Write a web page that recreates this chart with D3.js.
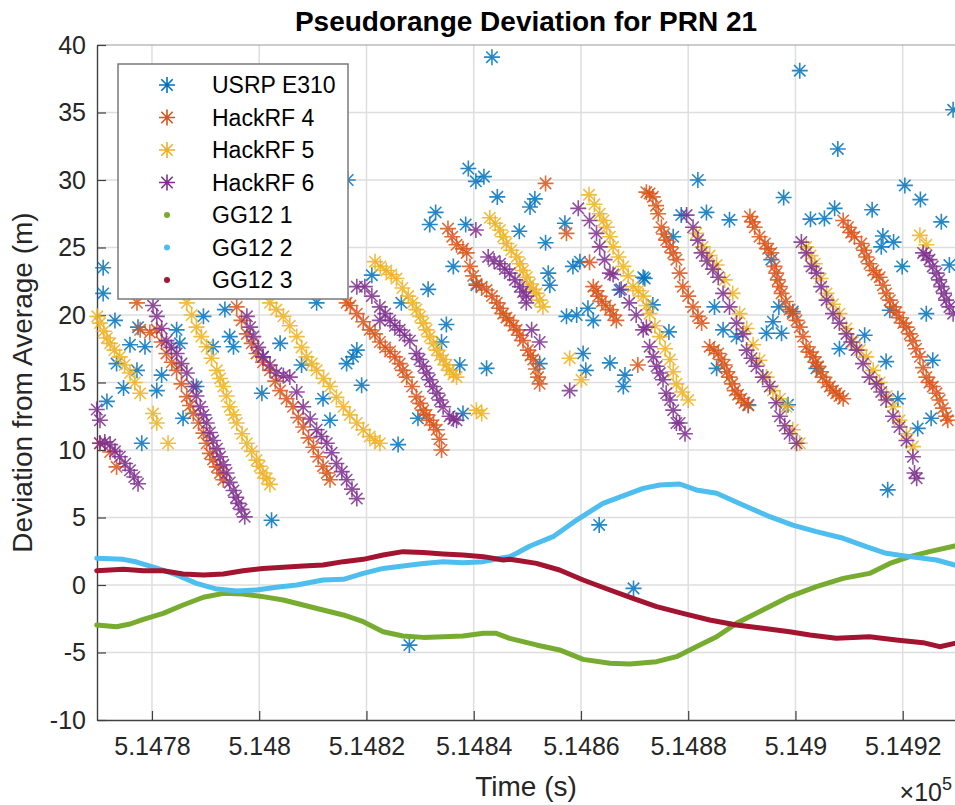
<!DOCTYPE html>
<html>
<head>
<meta charset="utf-8">
<script src="https://cdn.jsdelivr.net/npm/d3@7/dist/d3.min.js"></script>
<style>
  html, body { margin: 0; padding: 0; background: #fff; }
  svg text { font-family: "Liberation Sans", Arial, Helvetica, sans-serif; }
</style>
</head>
<body>
<div id="chart"></div>
<script>
// Values.
// Time in seconds (the axis shows it scaled by 1e5), deviation in metres.
const xTicks = [514780, 514800, 514820, 514840, 514860, 514880, 514900, 514920];
const xTickLabels = ['5.1478', '5.148', '5.1482', '5.1484', '5.1486', '5.1488', '5.149', '5.1492'];
const yTicks = [-10, -5, 0, 5, 10, 15, 20, 25, 30, 35, 40];
const yTickLabels = ['-10', '-5', '0', '5', '10', '15', '20', '25', '30', '35', '40'];
const seriesNames = ['USRP E310', 'HackRF 4', 'HackRF 5', 'HackRF 6', 'GG12 1', 'GG12 2', 'GG12 3'];

const usrpE310 = [
  [514770.9,23.5],[514770.9,21.6],[514773.1,19.6],[514777.4,19.1],[514775.9,17.8],[514778.7,17.65],[514773.4,16.4],
  [514777.2,15.9],[514774.7,14.6],[514771.6,13.6],[514778.1,10.5],[514784.6,18.9],[514785.2,17.9],[514781.8,15.55],
  [514780.9,14.4],[514785.8,12.35],[514788.3,14.7],[514789.6,19.9],[514793.6,20.4],[514794.5,18.4],[514795.2,17.65],
  [514791.4,17.65],[514800.5,14.2],[514800.7,16.9],[514803.9,17.9],[514807.9,16.3],[514811.9,13.8],[514813.2,12.2],
  [514816.3,16.4],[514817.5,16.9],[514818.2,17.4],[514819.1,14.8],[514802.3,4.8],[514810.7,20.9],[514816.5,30.0],
  [514821.0,22.95],[514826.5,20.9],[514831.5,21.9],[514836.2,23.6],[514834.9,19.3],[514834.0,18.0],[514837.4,16.3],
  [514842.4,16.05],[514840.5,22.2],[514825.9,10.4],[514829.6,12.35],[514838.0,12.7],
  [514843.4,39.1],[514839.0,30.85],[514840.4,29.9],[514841.9,30.25],[514844.4,28.75],[514850.5,28.0],[514851.4,28.6],
  [514832.9,27.6],[514831.8,26.7],[514838.5,26.7],[514848.5,26.2],[514853.4,25.35],[514853.9,23.1],[514854.2,22.2],
  [514852.3,16.4],[514857.0,26.8],[514858.5,23.6],[514859.8,23.95],[514867.2,21.85],[514871.6,22.8],[514857.3,19.9],
  [514859.2,20.0],[514861.3,20.5],[514862.3,19.6],[514860.4,17.15],[514860.9,15.9],[514865.4,16.45],[514868.2,15.55],
  [514867.9,14.7],[514873.4,20.75],[514863.4,4.45],[514869.8,-0.25],[514828.0,-4.45],
  [514900.8,38.1],[514929.4,35.2],[514907.9,32.3],[514881.8,30.0],[514897.8,28.7],[514920.4,29.6],[514923.3,28.55],
  [514927.2,26.9],[514883.4,27.6],[514887.7,27.05],[514902.8,27.1],[514905.4,27.15],[514907.3,27.9],[514914.3,27.8],
  [514877.2,25.8],[514878.7,27.4],[514916.3,25.85],[514918.3,25.4],[514916.0,25.05],[514919.9,23.6],[514928.7,23.7],
  [514871.9,22.7],[514876.4,18.75],[514884.9,20.6],[514895.5,24.1],[514896.9,20.6],[514895.8,19.5],[514899.5,20.25],
  [514894.6,18.65],[514924.4,20.1],[514917.6,20.35],[514912.9,18.5],[514886.5,18.9],[514889.0,18.4],[514897.4,18.65],
  [514885.3,16.05],[514891.2,13.35],[514898.6,13.35],[514903.9,16.05],[514908.2,17.5],[514916.9,16.55],[514919.1,13.8],
  [514922.8,11.6],[514925.3,12.35],[514925.6,16.65],[514917.2,7.05]
];

const hackRF4 = [
  [514777.2,20.9],[514777.8,18.9],[514779.6,18.7],[514770.3,10.5],[514772.2,9.85],[514773.4,8.75],
  [514780.9,18.9],[514781.8,18.0],[514782.7,17.15],[514783.7,16.5],[514784.6,15.9],[514785.5,14.9],[514786.5,13.95],
  [514787.1,13.3],[514787.7,12.7],[514788.7,12.0],[514789.6,11.25],[514790.2,10.5],[514790.8,9.75],[514791.4,9.3],
  [514792.1,8.75],[514792.7,8.3],[514793.3,7.8],
  [514795.8,20.6],[514796.7,19.6],[514797.7,18.6],[514798.6,17.9],[514799.5,17.15],[514800.7,16.5],[514802.0,15.9],
  [514803.0,15.1],[514803.9,14.4],[514805.1,13.8],[514806.3,13.2],[514807.3,12.4],[514808.2,11.7],[514809.2,10.9],
  [514810.1,10.2],[514811.0,9.5],[514811.9,8.8],[514812.6,8.3],[514813.2,7.8],
  [514816.3,20.9],[514817.0,20.7],[514818.2,20.1],[514819.4,19.5],[514820.6,18.9],[514821.6,18.6],[514822.5,18.0],
  [514823.5,17.6],[514824.4,17.3],[514825.3,16.9],[514826.2,16.4],[514826.8,15.9],[514827.5,15.4],[514828.5,14.7],
  [514829.3,13.95],[514830.0,13.45],[514830.6,12.95],[514831.2,12.6],[514831.8,12.2],[514832.5,11.85],[514833.1,11.5],
  [514833.6,10.8],[514834.0,10.0],
  [514835.2,26.4],[514836.0,25.8],[514836.8,25.2],[514838.0,24.9],[514838.7,24.6],[514839.3,23.6],[514839.9,22.9],
  [514840.5,22.3],[514841.5,22.1],[514842.4,21.85],[514843.4,21.4],[514844.3,20.9],[514844.9,20.5],[514845.5,20.1],
  [514846.1,19.8],[514846.7,19.6],[514847.4,19.2],[514848.0,18.9],[514848.6,18.5],[514849.2,18.1],[514850.1,17.4],
  [514850.6,17.0],[514851.1,16.7],[514851.6,16.0],[514852.0,15.4],[514852.3,14.9],
  [514853.4,29.75],[514857.3,26.05],[514861.6,23.9],[514870.6,16.3],
  [514862.3,22.1],[514862.9,21.8],[514863.2,21.4],[514863.9,21.0],[514864.6,20.7],[514865.4,20.4],[514866.0,20.0],
  [514866.6,19.6],
  [514872.2,29.1],[514872.8,29.0],[514873.4,28.75],[514874.0,28.1],[514874.4,27.5],[514875.0,26.5],[514875.5,26.0],
  [514875.9,25.55],[514876.6,25.05],[514877.2,24.6],[514877.8,24.1],[514878.4,23.1],[514879.0,22.1],[514880.0,21.4],
  [514880.9,20.6],[514881.8,19.9],[514882.5,19.4],
  [514884.0,17.65],[514884.8,17.4],[514885.6,17.15],[514886.2,16.7],[514886.8,16.3],[514887.2,15.8],[514887.7,15.4],
  [514888.2,14.9],[514888.7,14.4],[514889.3,14.1],[514889.9,13.8],[514890.5,13.5],[514891.2,13.3],
  [514891.5,27.3],[514892.0,26.9],[514892.4,26.5],[514893.3,25.8],[514894.3,25.3],[514894.9,24.9],[514895.5,24.6],
  [514896.1,23.6],[514896.4,23.1],[514896.7,22.6],[514897.1,22.1],[514897.4,21.6],[514898.2,21.0],[514898.9,20.4],
  [514899.5,20.1],[514900.2,19.6],[514900.8,19.1],[514901.4,18.4],[514902.0,17.65],[514902.7,17.25],[514903.3,16.9],
  [514903.8,16.5],[514904.2,16.2],[514904.7,15.8],[514905.1,15.4],[514905.8,15.0],[514906.4,14.7],[514907.0,14.4],
  [514907.6,14.2],[514908.2,14.0],[514908.9,13.8],
  [514908.9,27.0],[514909.8,26.5],[514910.4,26.1],[514911.0,25.8],[514912.3,25.3],[514912.8,24.8],[514913.2,24.3],
  [514913.8,23.8],[514914.5,23.3],[514915.1,23.0],[514915.7,22.8],[514916.3,22.2],[514916.9,21.6],[514917.6,21.1],
  [514918.2,20.6],[514918.8,20.2],[514919.4,19.8],[514920.1,19.4],[514920.7,19.1],[514921.3,18.6],[514921.9,18.1],
  [514922.5,17.5],[514923.2,16.9],[514923.8,16.1],[514924.4,15.4],[514925.0,15.0],[514925.6,14.7],[514926.3,14.2],
  [514926.9,13.7],[514927.5,13.1],[514928.1,12.5],[514928.4,12.2]
];

const hackRF5 = [
  [514769.8,19.9],[514770.3,19.4],[514771.0,18.8],[514771.6,18.3],[514772.2,17.9],[514773.0,17.4],[514774.0,16.9],
  [514774.9,16.3],[514775.9,15.7],[514776.8,15.0],[514777.8,14.2],[514780.2,12.7],[514780.9,12.0],[514783.0,10.5],
  [514786.5,20.9],[514787.4,20.0],[514788.3,19.1],[514789.2,18.4],[514790.2,17.65],[514791.1,16.8],[514792.1,15.9],
  [514792.7,15.3],[514793.3,14.7],[514793.9,14.0],[514794.5,13.2],[514795.2,12.6],[514795.8,12.0],[514796.8,11.2],
  [514797.7,10.5],[514798.6,9.9],[514799.5,9.25],[514800.1,8.8],[514800.7,8.3],[514801.4,7.9],[514802.0,7.45],
  [514802.0,20.9],[514803.2,20.4],[514804.5,19.9],[514805.7,19.2],[514807.0,18.4],[514807.9,17.6],[514808.8,16.9],
  [514809.8,16.4],[514810.7,15.9],[514812.0,15.3],[514813.2,14.7],[514814.4,13.9],[514815.7,13.2],[514816.9,12.6],
  [514818.2,12.0],[514819.4,11.5],[514820.6,11.0],[514821.6,10.7],[514822.5,10.5],
  [514821.6,23.95],[514822.6,23.6],[514823.7,23.3],[514824.6,23.0],[514825.6,22.7],[514826.7,22.0],[514827.8,21.4],
  [514828.6,20.9],[514829.3,20.4],[514830.0,19.9],[514830.6,19.4],[514831.2,18.9],[514831.8,18.4],[514832.5,17.9],
  [514833.1,17.4],[514833.7,17.0],[514834.3,16.7],[514834.9,16.3],[514835.5,15.9],[514836.2,15.6],[514836.8,15.4],
  [514840.5,12.95],[514841.5,12.7],
  [514843.0,27.2],[514844.0,26.8],[514844.9,26.3],[514845.5,25.8],[514846.1,25.3],[514847.0,24.8],[514848.0,24.3],
  [514848.6,23.8],[514849.2,23.3],[514849.9,22.8],[514850.5,22.3],[514851.1,21.9],[514851.7,21.6],[514852.3,21.1],
  [514852.9,20.6],[514857.9,16.8],[514860.1,15.2],
  [514861.5,28.9],[514862.5,28.2],[514863.5,27.5],[514864.2,27.0],[514864.8,26.5],[514865.4,25.8],[514866.0,25.05],
  [514867.0,24.3],[514867.9,23.6],[514868.8,22.9],[514869.7,22.1],[514870.7,21.8],[514871.6,21.4],[514872.2,20.7],
  [514872.8,20.1],[514873.8,19.2],[514874.7,18.4],[514875.7,17.5],[514876.6,16.7],[514877.2,15.8],[514877.8,14.9],
  [514878.9,14.3],[514880.0,13.7],
  [514881.5,26.05],[514882.7,25.05],[514884.0,24.4],[514885.3,23.7],[514886.8,22.6],[514888.3,21.6],[514889.6,20.1],
  [514890.9,19.0],[514892.1,17.8],[514893.3,16.65],[514894.6,15.4],[514895.8,14.4],[514897.1,13.8],[514898.3,13.2],
  [514899.5,11.5],[514900.8,10.5],
  [514902.0,25.05],[514902.8,24.4],[514903.6,23.8],[514904.7,22.7],[514905.8,21.6],[514907.0,20.8],[514908.2,20.1],
  [514909.5,19.0],[514910.7,18.0],[514912.0,17.4],[514913.2,16.9],[514914.5,15.9],[514915.7,15.0],[514917.0,14.0],
  [514918.2,13.2],[514919.4,12.2],[514920.7,11.2],[514921.9,10.25],[514923.2,25.9],[514924.4,25.2]
];

const hackRF6 = [
  [514769.7,13.0],[514770.3,12.2],
  [514770.3,10.5],[514771.2,10.6],[514772.2,10.4],[514773.1,9.9],[514774.0,9.5],[514775.0,9.0],[514775.9,8.5],
  [514776.7,8.0],[514777.4,7.5],
  [514780.2,20.7],[514780.9,19.9],[514781.8,19.0],[514782.7,18.1],[514783.6,17.6],[514784.6,17.15],[514785.5,16.4],
  [514786.5,15.7],[514787.7,14.7],[514788.3,14.0],[514789.0,13.2],[514789.6,12.6],[514790.2,12.0],[514790.8,11.3],
  [514791.4,10.7],[514792.1,10.1],[514792.7,9.5],[514793.3,8.9],[514793.9,8.3],[514794.5,7.6],[514795.2,7.0],
  [514795.7,6.5],[514796.1,6.05],[514796.7,5.6],[514797.3,5.05],
  [514797.7,19.9],[514798.3,19.1],[514798.9,18.4],[514799.8,17.6],[514800.7,16.9],[514802.0,16.3],[514803.2,15.7],
  [514804.5,15.5],[514805.7,15.4],[514807.0,14.3],[514808.2,13.2],[514809.5,12.3],[514810.7,11.5],[514811.6,11.0],
  [514812.6,10.5],[514813.5,9.8],[514814.4,9.0],[514815.4,8.4],[514816.3,7.8],[514817.3,7.1],[514818.2,6.4],
  [514818.2,22.1],[514819.7,22.1],[514821.0,21.4],[514822.5,20.6],[514822.5,19.6],[514823.5,20.1],[514824.4,19.6],
  [514825.3,19.2],[514826.2,18.9],[514827.1,18.5],[514828.1,18.1],[514829.3,17.15],[514829.9,16.7],[514830.6,16.2],
  [514831.2,15.7],[514831.8,15.2],[514832.4,14.7],[514833.1,14.2],[514833.7,13.7],[514834.3,13.2],[514835.5,12.5],
  [514836.2,12.3],[514836.8,12.2],
  [514840.4,26.3],[514842.7,24.3],[514843.8,24.0],[514844.9,23.8],[514845.8,23.4],[514846.7,23.1],[514847.7,22.6],
  [514848.6,22.1],[514849.2,21.7],[514849.8,21.4],[514849.8,20.9],[514850.8,18.9],[514852.3,18.0],[514857.9,14.4],
  [514859.5,27.9],[514861.6,27.0],[514862.9,26.05],[514863.5,25.05],[514864.4,24.1],[514865.4,23.1],[514866.0,23.0],
  [514867.5,21.9],[514869.0,20.9],[514870.3,20.0],[514871.6,18.9],[514872.2,19.1],[514872.8,17.65],[514873.5,16.9],
  [514874.1,16.2],[514874.7,15.7],[514875.3,15.2],[514875.9,14.2],[514876.6,13.7],[514877.2,12.95],[514877.8,12.0],
  [514878.4,12.0],[514879.4,11.2],
  [514879.7,27.4],[514880.9,26.5],[514881.8,25.55],[514882.5,24.6],[514883.5,24.0],[514884.6,23.4],[514885.6,22.8],
  [514886.5,21.6],[514887.7,20.6],[514889.0,19.4],[514890.2,18.6],[514890.9,17.4],[514891.8,16.8],[514892.7,16.2],
  [514893.9,15.4],[514895.2,14.7],[514896.4,13.5],[514897.1,12.5],[514898.0,11.8],[514898.9,11.2],[514900.2,10.5],
  [514901.1,25.4],[514902.0,24.6],[514903.0,23.6],[514903.9,23.1],[514904.8,22.1],[514905.8,21.1],[514907.0,20.1],
  [514908.2,19.4],[514909.5,18.6],[514910.4,18.0],[514911.4,17.4],[514912.6,16.4],[514913.8,15.4],[514915.1,14.9],
  [514916.0,14.3],[514916.9,13.7],[514918.2,12.5],[514919.4,11.7],[514920.7,10.7],[514921.9,9.5],[514922.2,8.3],
  [514922.6,7.9],
  [514923.8,24.6],[514924.4,24.4],[514925.0,24.1],[514925.6,23.6],[514926.3,23.1],[514926.8,22.6],[514927.2,22.1],
  [514927.7,21.6],[514928.1,21.1],[514928.7,20.6],[514929.4,20.1]
];

const gg12n1 = [
  [514769.7,-2.96],[514773.4,-3.09],[514775.9,-2.89],[514778.4,-2.54],[514782.1,-2.1],[514785.8,-1.48],[514789.6,-0.91],
  [514793.3,-0.62],[514797.0,-0.67],[514800.7,-0.86],[514804.5,-1.11],[514808.2,-1.48],[514811.9,-1.85],[514815.7,-2.22],
  [514819.4,-2.72],[514823.1,-3.46],[514826.8,-3.78],[514830.6,-3.88],[514834.3,-3.83],[514838.0,-3.78],[514841.8,-3.58],
  [514844.2,-3.58],[514846.7,-3.95],[514851.7,-4.44],[514856.0,-4.81],[514860.4,-5.51],[514865.4,-5.8],[514869.1,-5.85],
  [514874.1,-5.68],[514877.8,-5.31],[514881.5,-4.57],[514885.3,-3.83],[514889.0,-2.84],[514893.9,-1.85],[514898.9,-0.86],
  [514903.9,-0.12],[514908.9,0.49],[514913.8,0.86],[514917.6,1.6],[514921.3,2.1],[514925.0,2.47],[514929.7,2.89]
];

const gg12n2 = [
  [514769.7,1.98],[514774.65,1.9],[514777.15,1.7],[514780.9,1.25],[514784.6,0.74],[514788.3,0.12],[514792.1,-0.3],
  [514795.8,-0.44],[514799.5,-0.37],[514803.2,-0.17],[514807.0,0.0],[514811.9,0.37],[514815.7,0.42],[514819.4,0.86],
  [514823.1,1.23],[514826.8,1.41],[514830.6,1.6],[514834.3,1.73],[514838.0,1.65],[514841.8,1.73],[514844.9,1.98],
  [514846.7,2.1],[514848.0,2.35],[514850.5,2.89],[514854.8,3.58],[514859.2,4.81],[514864.1,6.05],[514869.1,6.79],
  [514871.6,7.16],[514874.7,7.41],[514878.4,7.48],[514881.5,7.04],[514885.3,6.79],[514890.2,5.93],[514895.2,5.06],
  [514899.5,4.44],[514903.9,3.95],[514908.9,3.46],[514913.2,2.84],[514916.9,2.35],[514921.3,2.1],[514926.3,1.85],
  [514929.7,1.48]
];

const gg12n3 = [
  [514769.7,1.06],[514774.65,1.16],[514778.4,1.06],[514782.1,1.06],[514785.8,0.81],[514789.6,0.74],[514793.3,0.81],
  [514797.0,1.06],[514800.7,1.23],[514804.5,1.31],[514808.2,1.41],[514811.9,1.48],[514815.7,1.73],[514819.4,1.9],
  [514823.1,2.22],[514826.8,2.47],[514830.6,2.4],[514834.3,2.3],[514838.0,2.22],[514841.8,2.1],[514845.5,1.85],
  [514846.7,1.9],[514848.6,1.8],[514851.7,1.6],[514856.0,1.11],[514860.4,0.37],[514865.4,-0.37],[514869.7,-0.99],
  [514874.1,-1.6],[514879.0,-2.1],[514884.0,-2.59],[514889.0,-2.96],[514893.9,-3.21],[514898.9,-3.46],[514902.7,-3.7],
  [514907.6,-3.95],[514913.8,-3.83],[514918.8,-4.07],[514923.8,-4.27],[514926.9,-4.57],[514929.7,-4.32]
];

// ---- layout ----
const width = 955;
const height = 805;
const plot = { left: 97, right: 955, top: 45, bottom: 720 };
const colors = ['#0072BD', '#D95319', '#EDB120', '#7E2F8E', '#77AC30', '#4DBEEE', '#A2142F'];
const axisColor = '#404040';
const textColor = '#262626';
// MATLAB '*' marker
const star = 'M-8,0H8M0,-8V8M-5.7,-5.7L5.7,5.7M-5.7,5.7L5.7,-5.7';

const svg = d3.select('#chart').append('svg')
  .attr('width', width)
  .attr('height', height);

const x = d3.scaleLinear().domain([514769.75, 514929.75]).range([plot.left, plot.right]);
const y = d3.scaleLinear().domain([-10, 40]).range([plot.bottom, plot.top]);

// grid
const grid = svg.append('g');
grid.selectAll('line.vx').data(xTicks).enter().append('line')
  .attr('x1', d => x(d)).attr('x2', d => x(d))
  .attr('y1', plot.top).attr('y2', plot.bottom)
  .style('stroke', '#dedede').style('stroke-width', 1.5);
grid.selectAll('line.hy').data(yTicks.filter(d => d > -10 && d < 40)).enter().append('line')
  .attr('x1', plot.left).attr('x2', plot.right)
  .attr('y1', d => y(d)).attr('y2', d => y(d))
  .style('stroke', '#dedede').style('stroke-width', 1.5);

// top edge of the axes box
svg.append('line')
  .attr('x1', plot.left).attr('x2', plot.right)
  .attr('y1', plot.top).attr('y2', plot.top)
  .style('stroke', '#9a9a9a').style('stroke-width', 1.2);

// axes
const xAxis = svg.append('g')
  .attr('transform', 'translate(0,' + plot.bottom + ')')
  .call(d3.axisBottom(x)
    .tickValues(xTicks)
    .tickFormat((d, i) => xTickLabels[i])
    .tickSizeInner(-9).tickSizeOuter(0).tickPadding(17));

const yAxis = svg.append('g')
  .attr('transform', 'translate(' + plot.left + ',0)')
  .call(d3.axisLeft(y)
    .tickValues(yTicks)
    .tickFormat((d, i) => yTickLabels[i])
    .tickSizeInner(-9).tickSizeOuter(0).tickPadding(11));

[xAxis, yAxis].forEach(function (ax) {
  ax.select('.domain').style('stroke', axisColor).style('stroke-width', 1.4);
  ax.selectAll('.tick line').style('stroke', axisColor).style('stroke-width', 1.2);
  ax.selectAll('.tick text')
    .style('font-size', '25px')
    .style('font-family', '"Liberation Sans", Arial, sans-serif')
    .style('fill', textColor);
});

// asterisk series
const starSeries = [usrpE310, hackRF4, hackRF5, hackRF6];
starSeries.forEach(function (values, i) {
  svg.append('g').selectAll('path').data(values).enter().append('path')
    .attr('transform', d => 'translate(' + x(d[0]) + ',' + y(d[1]) + ')')
    .attr('d', star)
    .style('fill', 'none')
    .style('stroke', colors[i])
    .style('stroke-width', 1.6)
    .style('stroke-opacity', 0.85);
});

// dense dot series drawn as thick traces
const line = d3.line().x(d => x(d[0])).y(d => y(d[1]));
[gg12n1, gg12n2, gg12n3].forEach(function (values, i) {
  svg.append('path')
    .datum(values)
    .attr('d', line)
    .style('fill', 'none')
    .style('stroke', colors[4 + i])
    .style('stroke-width', 5)
    .style('stroke-linejoin', 'round')
    .style('stroke-linecap', 'round');
});

// title and labels
svg.append('text')
  .attr('x', (plot.left + plot.right) / 2).attr('y', 31)
  .attr('text-anchor', 'middle')
  .style('font-size', '28px').style('font-weight', 'bold').style('fill', '#000')
  .text('Pseudorange Deviation for PRN 21');

svg.append('text')
  .attr('x', (plot.left + plot.right) / 2).attr('y', 796)
  .attr('text-anchor', 'middle')
  .style('font-size', '28px').style('fill', textColor)
  .text('Time (s)');

svg.append('text')
  .attr('transform', 'translate(32,' + (plot.top + plot.bottom) / 2 + ') rotate(-90)')
  .attr('text-anchor', 'middle')
  .style('font-size', '28px').style('fill', textColor)
  .text('Deviation from Average (m)');

const expo = svg.append('text')
  .attr('x', 952).attr('y', 801)
  .attr('text-anchor', 'end')
  .style('font-size', '25px').style('fill', textColor);
expo.append('tspan').text('\u00d710');
expo.append('tspan').attr('dy', -11).style('font-size', '18px').text('5');

// legend
const legend = svg.append('g').attr('transform', 'translate(118,64)');
legend.append('rect')
  .attr('width', 230).attr('height', 235)
  .style('fill', '#fff').style('stroke', '#7a7a7a').style('stroke-width', 1.5);
const rows = legend.selectAll('g.row').data(seriesNames).enter().append('g')
  .attr('transform', (d, i) => 'translate(0,' + (21 + i * 32.5) + ')');
rows.each(function (d, i) {
  const row = d3.select(this);
  if (i < 4) {
    row.append('path').attr('transform', 'translate(49,0)').attr('d', star)
      .style('fill', 'none').style('stroke', colors[i]).style('stroke-width', 1.6);
  } else {
    row.append('circle').attr('cx', 49).attr('cy', 0).attr('r', 3)
      .style('fill', colors[i]);
  }
  row.append('text').attr('x', 94).attr('dy', '0.36em')
    .style('font-size', '23px').style('fill', '#000')
    .text(d);
});
</script>
</body>
</html>
